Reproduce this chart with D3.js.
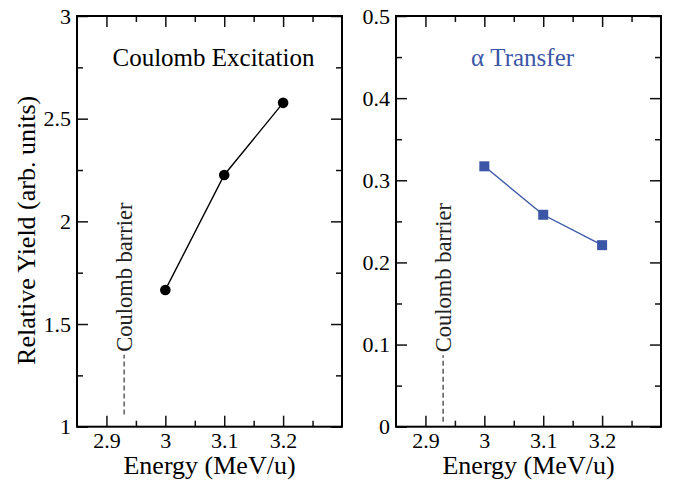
<!DOCTYPE html>
<html>
<head>
<meta charset="utf-8">
<script src="https://cdn.jsdelivr.net/npm/d3@7"></script>
<style>
  html, body { margin: 0; padding: 0; background: #fff; }
  svg, svg text { font-family: "Liberation Serif", "Times New Roman", serif; }
  svg { display: block; }
  .tick-label text { font-size: 22px; fill: #000; }
  .axis-title { font-size: 26px; fill: #000; }
  .panel-title { font-size: 25px; }
  .barrier-label { font-size: 22.5px; fill: #222; }
</style>
</head>
<body>
<div id="chart"></div>
<script>
// data
const energies = [3.0, 3.1, 3.2];
const coulexYield = [1.666, 2.226, 2.577];
const transferYield = [0.317, 0.258, 0.221];
const barrierEnergy = 2.93;

const xTicks = [2.9, 3.0, 3.1, 3.2];
const xMinorTicks = [2.95, 3.05, 3.15, 3.25];
const coulexYTicks = [1, 1.5, 2, 2.5, 3];
const coulexYMinor = [1.25, 1.75, 2.25, 2.75];
const transferYTicks = [0, 0.1, 0.2, 0.3, 0.4, 0.5];
const transferYMinor = [0.05, 0.15, 0.25, 0.35, 0.45];

const width = 675;
const height = 480;
const plotTop = 16;
const plotBottom = 426.7;
const majorLen = 11;
const minorLen = 6;

const fmt = d3.format("~g");

const svg = d3.select("#chart").append("svg")
  .attr("width", width)
  .attr("height", height)
  .attr("viewBox", [0, 0, width, height]);

function drawPanel({ left, right, yDomain, yTicks, yMinor, values, title, color, marker, barrier, titleShift }) {
  const x = d3.scaleLinear().domain([2.85, 3.3]).range([left, right]);
  const y = d3.scaleLinear().domain(yDomain).range([plotBottom, plotTop]);
  const g = svg.append("g");

  // major ticks, inward on all four sides; labels only bottom and left
  const axes = [
    [d3.axisBottom(x).tickValues(xTicks), `translate(0,${plotBottom})`, true, majorLen],
    [d3.axisTop(x).tickValues(xTicks), `translate(0,${plotTop})`, false, majorLen],
    [d3.axisLeft(y).tickValues(yTicks), `translate(${left},0)`, true, majorLen],
    [d3.axisRight(y).tickValues(yTicks), `translate(${right},0)`, false, majorLen],
    [d3.axisBottom(x).tickValues(xMinorTicks), `translate(0,${plotBottom})`, false, minorLen],
    [d3.axisTop(x).tickValues(xMinorTicks), `translate(0,${plotTop})`, false, minorLen],
    [d3.axisLeft(y).tickValues(yMinor), `translate(${left},0)`, false, minorLen],
    [d3.axisRight(y).tickValues(yMinor), `translate(${right},0)`, false, minorLen],
  ];
  axes.forEach(([axis, tr, labels, len]) => {
    g.append("g")
      .attr("class", "tick-label")
      .attr("transform", tr)
      .call(axis.tickSizeInner(-len).tickSizeOuter(0).tickPadding(6).tickFormat(fmt))
      .attr("font-family", null)
      .attr("font-size", null)
      .call((a) => a.select(".domain").remove())
      .call((a) => a.selectAll("line").attr("stroke", "#111").attr("stroke-width", 1.5))
      .call((a) => { if (!labels) a.selectAll("text").remove(); });
  });

  // frame
  g.append("rect")
    .attr("x", left)
    .attr("y", plotTop)
    .attr("width", right - left)
    .attr("height", plotBottom - plotTop)
    .attr("fill", "none")
    .attr("stroke", "#000")
    .attr("stroke-width", 2);

  // coulomb barrier marker
  const bx = x(barrierEnergy);
  g.append("line")
    .attr("x1", bx).attr("x2", bx)
    .attr("y1", y(barrier[0])).attr("y2", y(barrier[1]))
    .attr("stroke", "#333")
    .attr("stroke-width", 1.2)
    .attr("stroke-dasharray", "5,3");
  g.append("text")
    .attr("class", "barrier-label")
    .attr("transform", `translate(${bx},${y(barrier[1]) - 3})rotate(-90)`)
    .attr("dy", "0.35em")
    .text("Coulomb barrier");

  // data
  const pts = energies.map((e, i) => [x(e), y(values[i])]);
  g.append("path")
    .attr("d", d3.line()(pts))
    .attr("fill", "none")
    .attr("stroke", color)
    .attr("stroke-width", 1.4);

  if (marker === "circle") {
    g.selectAll(".pt").data(pts).join("circle")
      .attr("cx", (d) => d[0]).attr("cy", (d) => d[1])
      .attr("r", 5.3).attr("fill", color);
  } else {
    g.selectAll(".pt").data(pts).join("rect")
      .attr("x", (d) => d[0] - 5).attr("y", (d) => d[1] - 5)
      .attr("width", 10).attr("height", 10).attr("fill", color);
  }

  g.append("text")
    .attr("class", "panel-title")
    .attr("x", (left + right) / 2 + titleShift)
    .attr("y", 66)
    .attr("text-anchor", "middle")
    .attr("fill", color)
    .text(title);

  g.append("text")
    .attr("class", "axis-title")
    .attr("x", (left + right) / 2)
    .attr("y", 474)
    .attr("text-anchor", "middle")
    .text("Energy (MeV/u)");
}

drawPanel({
  left: 77, right: 342,
  yDomain: [1, 3], yTicks: coulexYTicks, yMinor: coulexYMinor,
  values: coulexYield,
  title: "Coulomb Excitation", color: "#000", marker: "circle",
  barrier: [1.06, 1.35], titleShift: 4,
});

drawPanel({
  left: 396, right: 661,
  yDomain: [0, 0.5], yTicks: transferYTicks, yMinor: transferYMinor,
  values: transferYield,
  title: "\u03b1 Transfer", color: "#3b56a6", marker: "square",
  barrier: [0.006, 0.087], titleShift: -6,
});

svg.append("text")
  .attr("class", "axis-title")
  .attr("transform", `translate(35,${(plotTop + plotBottom) / 2 + 9})rotate(-90)`)
  .attr("text-anchor", "middle")
  .text("Relative Yield (arb. units)");
</script>
</body>
</html>
